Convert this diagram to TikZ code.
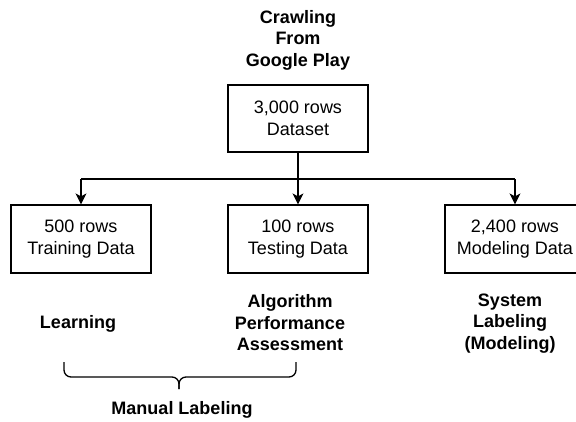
\documentclass[tikz,border=0pt]{standalone}
\usepackage{fontspec}
\setmainfont{Liberation Sans}
\usetikzlibrary{arrows.meta}
\tikzset{
  databox/.style={draw, line width=1.2pt, minimum width=140pt, minimum height=68pt, inner sep=0pt, align=center, font=\fontsize{18}{22}\selectfont},
  boldlabel/.style={inner sep=0pt, align=center, font=\fontsize{18}{21.5}\selectfont\bfseries},
  link/.style={line width=1.2pt},
  arrowlink/.style={line width=1.2pt, -{Stealth[length=11pt,width=11pt,inset=3pt]}},
  bracestroke/.style={line width=1.3pt, rounded corners=7pt},
}
\begin{document}
\begin{tikzpicture}[x=1pt,y=-1pt]
\useasboundingbox (0,0) rectangle (576,421);
\clip (0,0) rectangle (576,421);
\node[boldlabel] (title) at (298,40) {Crawling\\From\\Google Play};
\node[databox, minimum height=67pt] (ds) at (298,118.5) {3,000 rows\\Dataset};
\node[databox] (train) at (81,239) {500 rows\\Training Data};
\node[databox] (test) at (298,239) {100 rows\\Testing Data};
\node[databox] (model) at (515,239) {2,400 rows\\Modeling Data};
\coordinate (j) at (298,179);
\draw[arrowlink] (ds.south) -- (test.north);
\draw[link] (train.north |- j) -- (model.north |- j);
\draw[arrowlink] (train.north |- j) -- (train.north);
\draw[arrowlink] (model.north |- j) -- (model.north);
\node[boldlabel] (learn) at (78,324) {Learning};
\node[boldlabel] (algo) at (290,323) {Algorithm\\Performance\\Assessment};
\node[boldlabel] (sys) at (510,323.5) {System\\Labeling\\(Modeling)};
\coordinate (bl) at (64,362);
\coordinate (br) at (296,362);
\coordinate (bm) at (179,377);
\coordinate (bt) at (179,389);
\draw[bracestroke] (bl) |- (bm) -- (bt);
\draw[bracestroke] (br) |- (bm) -- (bt);
\node[boldlabel] (manual) at (182,410) {Manual Labeling};
\end{tikzpicture}
\end{document}
